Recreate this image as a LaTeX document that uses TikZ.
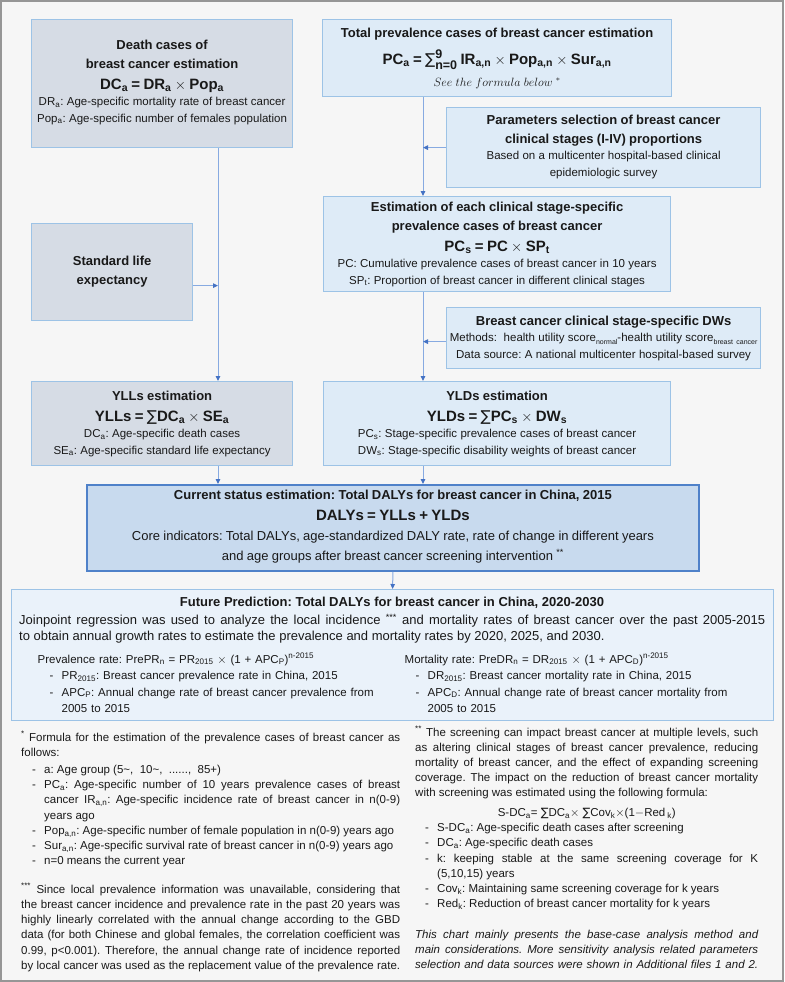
\documentclass[tikz,border=0pt]{standalone}
\usepackage{fontspec}
\setmainfont{Liberation Sans}
\newfontfamily\sigmafont{DejaVu Sans}
\usepackage{amsmath}
\usetikzlibrary{arrows.meta,positioning,calc}
\definecolor{PageGray}{RGB}{246,246,246}
\definecolor{FrameGray}{RGB}{150,150,150}
\definecolor{EdgeBlue}{RGB}{157,195,230}
\definecolor{SlateFill}{RGB}{214,220,229}
\definecolor{IceFill}{RGB}{222,235,247}
\definecolor{CoreFill}{RGB}{200,218,238}
\definecolor{CoreEdge}{RGB}{79,129,201}
\definecolor{MistFill}{RGB}{234,242,250}
\definecolor{LinkBlue}{RGB}{135,170,225}
\definecolor{TipBlue}{RGB}{68,114,196}
\definecolor{InkGray}{RGB}{25,25,25}
\tikzset{
  slatebox/.style={rectangle, draw=EdgeBlue, line width=1.2pt, fill=SlateFill,
                   text=InkGray, align=center, inner sep=0pt, anchor=north west},
  icebox/.style  ={slatebox, fill=IceFill},
  corebox/.style ={slatebox, draw=CoreEdge, line width=1.8pt, fill=CoreFill},
  mistbox/.style ={slatebox, fill=MistFill},
  notetext/.style={anchor=base west, inner sep=0pt, align=justify, text=InkGray,
                   font=\fontsize{11.5}{15.2}\selectfont},
  link/.style    ={draw=LinkBlue, line width=1pt,
                   -{Triangle[length=5pt,width=4.5pt,color=TipBlue]}},
}
\frenchspacing
\newcommand{\ttl}{\fontsize{13}{19}\selectfont\bfseries}
\newcommand{\fml}{\fontsize{15}{21}\selectfont\bfseries}
\newcommand{\dsc}{\fontsize{11.5}{16.5}\selectfont}
\newcommand{\sbs}[1]{\textsubscript{#1}}
\newcommand{\sps}[1]{\textsuperscript{#1}}
\newcommand{\tsb}[1]{\raisebox{-2.5pt}{\fontsize{7}{7}\selectfont #1}}
\newcommand{\nsum}{{\sigmafont\mdseries ∑}}
\newcommand{\stacksum}{\nsum\rlap{\raisebox{6pt}{\fontsize{12.5}{12.5}\selectfont 9}}\raisebox{-5pt}{\fontsize{12.5}{12.5}\selectfont n=0}}
\newcommand{\dashitem}[1][11pt]{\par\noindent\hangindent=\dimexpr#1+12pt\relax\hangafter=1\hspace*{#1}\makebox[12pt][l]{-}}

\begin{document}
\begin{tikzpicture}[x=1pt,y=-1pt]
  \useasboundingbox (0,0) rectangle (784,982);
  \fill[PageGray] (0,0) rectangle (784,982);
  \draw[FrameGray,line width=2pt] (1,1) rectangle (783,981);

  % left branch
  \node[slatebox,minimum width=261pt,minimum height=128pt,text width=257pt] (dc) at (31,19)
  {{\ttl Death cases of\\breast cancer estimation\par}
   {\fml DC\sbs{a} = DR\sbs{a} $\times$ Pop\sbs{a}\par}
   {\dsc DR\sbs{a}: Age-specific mortality rate of breast cancer\\
    Pop\sbs{a}: Age-specific number of females population\par}\vspace{3pt}};

  \node[slatebox,minimum width=161pt,minimum height=97pt,text width=155pt] (sl) at (31,223)
  {\ttl Standard life\\expectancy\par};

  \node[slatebox,minimum width=261pt,minimum height=84pt,text width=257pt] (yll) at (31,381)
  {{\ttl YLLs estimation\par}
   {\fml YLLs = \nsum DC\sbs{a} $\times$ SE\sbs{a}\par}
   {\dsc DC\sbs{a}: Age-specific death cases\\
    SE\sbs{a}: Age-specific standard life expectancy\par}};

  % right branch
  \node[icebox,minimum width=349pt,minimum height=77pt,text width=343pt] (tp) at (322,19)
  {{\ttl Total prevalence cases of breast cancer estimation\par}
   {\fontsize{15}{27.5}\selectfont\bfseries PC\sbs{a} = \stacksum\ IR\sbs{a,n} $\times$ Pop\sbs{a,n} $\times$\ Sur\sbs{a,n}\par}
   {\fontsize{11.5}{21.5}\selectfont $See\ the\ formula\ below\ ^{*}$\par}};

  \node[icebox,minimum width=314pt,minimum height=80pt,text width=308pt] (ps) at (446,107)
  {{\ttl Parameters selection of breast cancer\\clinical stages (I-IV) proportions\par}
   {\dsc Based on a multicenter hospital-based clinical\\epidemiologic survey\par}\vspace{2pt}};

  \node[icebox,minimum width=347pt,minimum height=95pt,text width=343pt] (es) at (323,196)
  {{\ttl Estimation of each clinical stage-specific\\prevalence cases of breast cancer\par}
   {\fml PC\sbs{s} = PC $\times$ SP\sbs{t}\par}
   {\dsc PC: Cumulative prevalence cases of breast cancer in 10 years\\
    SP\sbs{t}: Proportion of breast cancer in different clinical stages\par}};

  \node[icebox,minimum width=314pt,minimum height=61pt,text width=312pt] (dw) at (446,307)
  {{\ttl Breast cancer clinical stage-specific DWs\par}
   {\dsc Methods:\ \ health utility score\tsb{normal}-health utility score\tsb{breast cancer}\\
    Data source: A national multicenter hospital-based survey\par}};

  \node[icebox,minimum width=347pt,minimum height=84pt,text width=343pt] (yld) at (323,381)
  {{\ttl YLDs estimation\par}
   {\fml YLDs = \nsum PC\sbs{s} $\times$ DW\sbs{s}\par}
   {\dsc PC\sbs{s}: Stage-specific prevalence cases of breast cancer\\
    DW\sbs{s}: Stage-specific disability weights of breast cancer\par}};

  % merged estimate and prediction
  \node[corebox,minimum width=612pt,minimum height=86pt,text width=606pt] (cs) at (86,484)
  {{\ttl Current status estimation: Total DALYs for breast cancer in China, 2015\par}
   {\fml DALYs = YLLs + YLDs\par}
   {\fontsize{13}{20}\selectfont Core indicators: Total DALYs, age-standardized DALY rate, rate of change in different years\\
    and age groups after breast cancer screening intervention \sps{**}\par}\vspace{3pt}};

  \node[mistbox,minimum width=762pt,minimum height=131pt] (fp) at (11,589) {};
  \node[text=InkGray,font=\ttl] (fptitle) at (392,603)
  {Future Prediction: Total DALYs for breast cancer in China, 2020-2030};
  \node[notetext,text width=746pt,font=\fontsize{13}{16}\selectfont] (fpbody) at (19,624.5)
  {Joinpoint regression was used to analyze the local incidence \sps{***} and mortality rates of breast cancer over the past 2005-2015\linebreak
   to obtain annual growth rates to estimate the prevalence and mortality rates by 2020, 2025, and 2030.\par};
  \node[notetext,align=left,text width=355pt,font=\fontsize{11.5}{16.5}\selectfont] (prevcol) at (37.5,663)
  {Prevalence rate: PrePR\sbs{n} = PR\sbs{2015} $\times$ (1 + APC\sbs{P})\sps{n-2015}
   \dashitem[12pt]PR\sbs{2015}: Breast cancer prevalence rate in China, 2015
   \dashitem[12pt]APC\sbs{P}: Annual change rate of breast cancer prevalence from\linebreak 2005 to 2015\par};
  \node[notetext,align=left,text width=355pt,font=\fontsize{11.5}{16.5}\selectfont] (mortcol) at (404.5,663)
  {Mortality rate: PreDR\sbs{n} = DR\sbs{2015} $\times$ (1 + APC\sbs{D})\sps{n-2015}
   \dashitem DR\sbs{2015}: Breast cancer mortality rate in China, 2015
   \dashitem APC\sbs{D}: Annual change rate of breast cancer mortality from\linebreak 2005 to 2015\par};

  % footnotes
  \node[notetext,text width=379pt] (noteL) at (21,741)
  {\sps{*} Formula for the estimation of the prevalence cases of breast cancer as\linebreak
   follows:\par\vspace{2pt}
   \dashitem a: Age group (5\textasciitilde,\ \ 10\textasciitilde,\ \ ......,\ \ 85+)
   \dashitem PC\sbs{a}: Age-specific number of 10 years prevalence cases of breast\linebreak
   cancer IR\sbs{a,n}: Age-specific incidence rate of breast cancer in n(0-9)\linebreak years ago
   \dashitem Pop\sbs{a,n}: Age-specific number of female population in n(0-9) years ago
   \dashitem Sur\sbs{a,n}: Age-specific survival rate of breast cancer in n(0-9) years ago
   \dashitem n=0 means the current year\par\vspace{13.5pt}
   {\parfillskip=0pt \sps{***} Since local prevalence information was unavailable, considering that\linebreak
   the breast cancer incidence and prevalence rate in the past 20 years was\linebreak
   highly linearly correlated with the annual change according to the GBD\linebreak
   data (for both Chinese and global females, the correlation coefficient was\linebreak
   0.99, p<0.001). Therefore, the annual change rate of incidence reported\linebreak
   by local cancer was used as the replacement value of the prevalence rate.\par}};

  \node[notetext,text width=343pt] (noteR) at (415,736)
  {\sps{**} The screening can impact breast cancer at multiple levels, such\linebreak
   as altering clinical stages of breast cancer prevalence, reducing\linebreak
   mortality of breast cancer, and the effect of expanding screening\linebreak
   coverage. The impact on the reduction of breast cancer mortality\linebreak
   with screening was estimated using the following formula:\par\vspace{4.5pt}
   {\centering S-DC\sbs{a}= \nsum DC\sbs{a}$\times$ \nsum Cov\sbs{k}$\times$(1$-$Red\,\sbs{k})\par}
   \dashitem[10pt]S-DC\sbs{a}: Age-specific death cases after screening
   \dashitem[10pt]DC\sbs{a}: Age-specific death cases
   \dashitem[10pt]k: keeping stable at the same screening coverage for K\linebreak (5,10,15) years
   \dashitem[10pt]Cov\sbs{k}: Maintaining same screening coverage for k years
   \dashitem[10pt]Red\sbs{k}: Reduction of breast cancer mortality for k years\par\vspace{15.5pt}
   {\itshape\parfillskip=0pt This chart mainly presents the base-case analysis method and\linebreak
   main considerations. More sensitivity analysis related parameters\linebreak
   selection and data sources were shown in Additional files 1 and 2.\par}};

  % connectors
  \coordinate (vl) at (218,0);
  \coordinate (vr) at (423,0);
  \draw[link] (dc.south -| vl) -- (yll.north -| vl);
  \draw[link] ([yshift=-13.5pt]sl.east) -- ([yshift=-13.5pt]sl.east -| vl);
  \draw[link] (tp.south -| vr) -- (es.north -| vr);
  \draw[link] (ps.west) -- (ps.west -| vr);
  \draw[link] (es.south -| vr) -- (yld.north -| vr);
  \draw[link] ([yshift=-3.5pt]dw.west) -- ([yshift=-3.5pt]dw.west -| vr);
  \draw[link] (yll.south -| vl) -- (cs.north -| vl);
  \draw[link] (yld.south -| vr) -- (cs.north -| vr);
  \draw[link] (cs.south) -- (fp.north);
\end{tikzpicture}
\end{document}
